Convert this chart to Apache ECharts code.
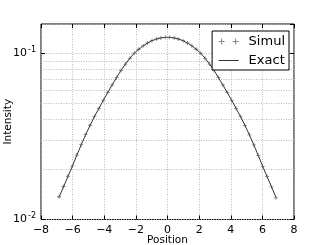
<!DOCTYPE html>
<html>
<head>
<meta charset="utf-8">
<script src="https://cdn.jsdelivr.net/npm/echarts@6/dist/echarts.min.js"></script>
<style>html,body{margin:0;padding:0;background:#fff;}#c{width:327px;height:245px;}</style>
</head>
<body>
<div id="c"></div>
<script>
// Positions of the 50 samples
const positions = [-6.86,-6.58,-6.30,-6.02,-5.74,-5.46,-5.18,-4.90,-4.62,-4.34,-4.06,-3.78,-3.50,-3.22,-2.94,-2.66,-2.38,-2.10,-1.82,-1.54,-1.26,-0.98,-0.70,-0.42,-0.14,
  0.14,0.42,0.70,0.98,1.26,1.54,1.82,2.10,2.38,2.66,2.94,3.22,3.50,3.78,4.06,4.34,4.62,4.90,5.18,5.46,5.74,6.02,6.30,6.58,6.86];
const simul = [0.0137,0.0158,0.0182,0.0210,0.0244,0.0282,0.0324,0.0369,0.0417,0.0466,0.0522,0.0581,0.0646,0.0714,0.0789,0.0861,0.0933,0.1001,0.1057,0.1108,0.1153,0.1190,0.1218,0.1237,0.1247,
  0.1247,0.1237,0.1218,0.1190,0.1153,0.1108,0.1057,0.1001,0.0933,0.0861,0.0789,0.0714,0.0645,0.0580,0.0521,0.0465,0.0416,0.0368,0.0323,0.0281,0.0243,0.0209,0.0181,0.0157,0.0135];
const exact = [0.0136,0.0157,0.0181,0.0209,0.0243,0.0281,0.0323,0.0368,0.0416,0.0465,0.0521,0.0580,0.0645,0.0714,0.0789,0.0861,0.0933,0.1001,0.1057,0.1108,0.1153,0.1190,0.1218,0.1237,0.1247,
  0.1247,0.1237,0.1218,0.1190,0.1153,0.1108,0.1057,0.1001,0.0933,0.0861,0.0789,0.0714,0.0645,0.0580,0.0521,0.0465,0.0416,0.0368,0.0323,0.0281,0.0243,0.0209,0.0181,0.0157,0.0136];
const xTicks = [-8, 8, 2];            // min, max, interval
const yRange = [0.01, 0.15];
const minorGrid = [0.02,0.03,0.04,0.05,0.06,0.07,0.08,0.09];

const font = 'DejaVu Sans';
const gridDot = {color:'#b8b8b8', type:[1,1.5], width:1};
const plus = 'path://M0,2h5v1h-5z M2,0h1v5h-1z';
const tick = {inside:true, length:4, lineStyle:{color:'#000'}};

const chart = echarts.init(document.getElementById('c'), null, {renderer:'canvas'});
chart.setOption({
  animation:false,
  textStyle:{fontFamily:font},
  grid:{left:41, right:33, top:24, bottom:25.5, outerBoundsMode:'none', containLabel:false,
        show:true, borderColor:'#000', borderWidth:1, backgroundColor:'#fff'},
  legend:{
    right:38, top:31,
    orient:'vertical',
    backgroundColor:'#fff',
    borderColor:'#000', borderWidth:1,
    padding:[4,4,3,6],
    itemGap:6,
    itemWidth:20, itemHeight:7,
    textStyle:{fontFamily:font, fontSize:13, color:'#000', padding:[0,0,0,5]},
    data:[
      {name:'Simul', icon:'path://M0,3h6v1h-6z M2.5,0.5h1v6h-1z M14,3h6v1h-6z M16.5,0.5h1v6h-1z', itemStyle:{color:'#666'}},
      {name:'Exact', itemStyle:{color:'transparent', borderColor:'transparent', borderWidth:0}, lineStyle:{color:'#333', width:1}}
    ]
  },
  xAxis:[{
    type:'value', min:xTicks[0], max:xTicks[1], interval:xTicks[2],
    name:'Position', nameLocation:'middle', nameGap:15, nameMoveOverlap:false,
    nameTextStyle:{fontFamily:font, fontSize:10.5, color:'#000', verticalAlign:'top'},
    axisLine:{show:false, onZero:false},
    axisTick:tick,
    axisLabel:{fontFamily:font, fontSize:11, color:'#000', margin:5,
      formatter:v=> (v<0?'\u2212':'')+Math.abs(v)},
    splitLine:{show:true, lineStyle:gridDot}
  },{
    type:'value', position:'top', min:xTicks[0], max:xTicks[1], interval:xTicks[2],
    axisLine:{show:false, onZero:false}, axisLabel:{show:false},
    axisTick:tick, splitLine:{show:false}
  }],
  yAxis:[{
    type:'log', logBase:10, min:yRange[0], max:yRange[1],
    name:'Intensity', nameLocation:'middle', nameGap:27, nameMoveOverlap:false,
    nameTextStyle:{fontFamily:font, fontSize:10.5, color:'#000', verticalAlign:'bottom'},
    axisLine:{show:false, onZero:false},
    axisTick:tick,
    axisLabel:{fontFamily:font, color:'#000', margin:5, showMaxLabel:false,
      formatter:v=>'{b|10}{s|'+Math.round(Math.log10(v))+'}',
      rich:{b:{fontFamily:font, fontSize:11, color:'#000'},
            s:{fontFamily:font, fontSize:8, color:'#000', verticalAlign:'bottom', padding:[0,0,7,1]}},
      fontSize:11},
    splitLine:{show:true, lineStyle:gridDot}
  },{
    type:'log', logBase:10, min:yRange[0], max:yRange[1], position:'right',
    axisLine:{show:false, onZero:false}, axisLabel:{show:false},
    axisTick:tick, splitLine:{show:false}
  }],
  series:[
    {
      name:'Exact', type:'line', symbol:'none', showSymbol:false,
      data:positions.map((x,i)=>[x,exact[i]]),
      lineStyle:{color:'#333', width:1},
      itemStyle:{color:'#333'},
      z:3,
      markLine:{silent:true, symbol:'none', label:{show:false},
        lineStyle:gridDot, z:1,
        data:minorGrid.map(v=>({yAxis:v}))}
    },
    {
      name:'Simul', type:'scatter', symbol:plus, symbolSize:4,
      data:positions.map((x,i)=>[x,simul[i]]),
      itemStyle:{color:'#555', opacity:0.8},
      z:4
    }
  ]
});
</script>
</body>
</html>
